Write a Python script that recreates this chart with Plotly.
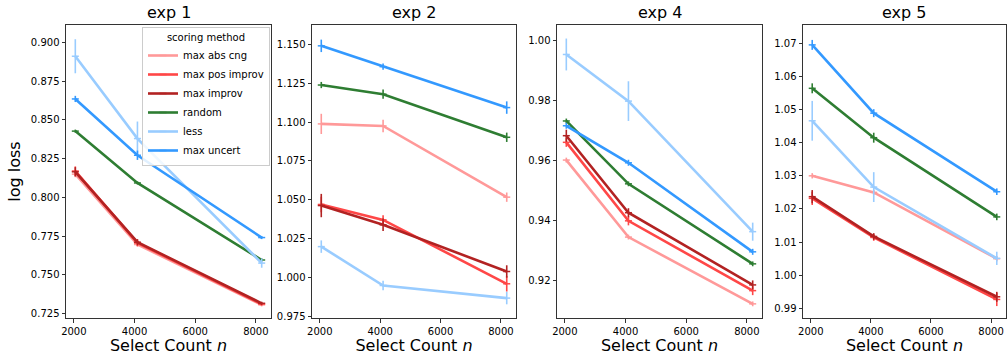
import plotly.graph_objects as go
from plotly.subplots import make_subplots

select_counts = [2048, 4096, 8192]
panel_titles = ["exp 1", "exp 2", "exp 4", "exp 5"]
methods = ["max abs cng", "max pos improv", "max improv", "random", "less", "max uncert"]
colors = ["#ff9999", "#ff4747", "#b22222", "#2e7d32", "#99ccff", "#3399ff"]

# exp 1
exp1_mean = {
    "max abs cng":    [0.8150, 0.7695, 0.7305],
    "max pos improv": [0.8170, 0.7705, 0.7310],
    "max improv":     [0.8165, 0.7710, 0.7315],
    "random":         [0.8428, 0.8093, 0.7595],
    "less":           [0.8912, 0.8380, 0.7575],
    "max uncert":     [0.8636, 0.8272, 0.7740],
}
exp1_err = {
    "max abs cng":    [0.002, 0.0015, 0.001],
    "max pos improv": [0.003, 0.002, 0.001],
    "max improv":     [0.003, 0.002, 0.001],
    "random":         [0.001, 0.001, 0.001],
    "less":           [0.011, 0.011, 0.003],
    "max uncert":     [0.002, 0.003, 0.001],
}
# exp 2
exp2_mean = {
    "max abs cng":    [1.0988, 1.0975, 1.0517],
    "max pos improv": [1.0470, 1.0371, 0.9960],
    "max improv":     [1.0463, 1.0339, 1.0039],
    "random":         [1.1238, 1.1179, 1.0902],
    "less":           [1.0199, 0.9949, 0.9868],
    "max uncert":     [1.1490, 1.1356, 1.1093],
}
exp2_err = {
    "max abs cng":    [0.0065, 0.004, 0.003],
    "max pos improv": [0.005, 0.003, 0.005],
    "max improv":     [0.0075, 0.004, 0.004],
    "random":         [0.002, 0.003, 0.003],
    "less":           [0.004, 0.003, 0.004],
    "max uncert":     [0.004, 0.002, 0.004],
}
# exp 4
exp4_mean = {
    "max abs cng":    [0.9601, 0.9345, 0.9123],
    "max pos improv": [0.9660, 0.9399, 0.9167],
    "max improv":     [0.9682, 0.9426, 0.9186],
    "random":         [0.9731, 0.9522, 0.9256],
    "less":           [0.9952, 0.9797, 0.9363],
    "max uncert":     [0.9715, 0.9592, 0.9296],
}
exp4_err = {
    "max abs cng":    [0.0008, 0.0008, 0.0008],
    "max pos improv": [0.0015, 0.0015, 0.0015],
    "max improv":     [0.002, 0.0015, 0.0015],
    "random":         [0.0008, 0.0008, 0.0008],
    "less":           [0.0053, 0.0066, 0.003],
    "max uncert":     [0.001, 0.001, 0.001],
}
# exp 5
exp5_mean = {
    "max abs cng":    [1.0300, 1.0250, 1.0050],
    "max pos improv": [1.0232, 1.0114, 0.9927],
    "max improv":     [1.0237, 1.0117, 0.9935],
    "random":         [1.0564, 1.0415, 1.0176],
    "less":           [1.0466, 1.0266, 1.0051],
    "max uncert":     [1.0695, 1.0489, 1.0252],
}
exp5_err = {
    "max abs cng":    [0.0008, 0.0008, 0.0008],
    "max pos improv": [0.002, 0.001, 0.002],
    "max improv":     [0.002, 0.001, 0.0015],
    "random":         [0.0015, 0.0015, 0.001],
    "less":           [0.006, 0.0045, 0.002],
    "max uncert":     [0.0015, 0.0012, 0.001],
}

panels = [(exp1_mean, exp1_err), (exp2_mean, exp2_err), (exp4_mean, exp4_err), (exp5_mean, exp5_err)]
y_ranges = [[0.722, 0.9114], [0.974, 1.1624], [0.9076, 1.005], [0.9871, 1.0755]]
y_dticks = [0.025, 0.025, 0.02, 0.01]
y_formats = [".3f", ".3f", ".2f", ".2f"]
x_domains = [[66/1007, 271/1007], [312/1007, 516/1007], [557/1007, 762/1007], [803/1007, 1006/1007]]
y_domain = [1 - 318/356, 1 - 25/356]

FONT = "DejaVu Sans"

fig = make_subplots(rows=1, cols=4, subplot_titles=panel_titles)

for p, (means, errs) in enumerate(panels):
    for m, c in zip(methods, colors):
        fig.add_trace(go.Scatter(
            x=select_counts, y=means[m], name=m, mode="lines+markers",
            line=dict(color=c, width=2.6),
            marker=dict(symbol="line-ew", size=5, color=c, line=dict(color=c, width=1.5)),
            error_y=dict(type="data", array=errs[m], visible=True, color=c, thickness=1.6, width=0),
            showlegend=(p == 0), legendgroup=m,
        ), row=1, col=p + 1)

for i in range(4):
    xa = "xaxis" if i == 0 else f"xaxis{i+1}"
    ya = "yaxis" if i == 0 else f"yaxis{i+1}"
    fig.layout[xa].update(
        domain=x_domains[i], range=[1741, 8499], tickvals=[2000, 4000, 6000, 8000],
        showgrid=False, zeroline=False, showline=True, mirror=True, linecolor="#333333", linewidth=1,
        ticks="outside", ticklen=3.5, tickwidth=1, tickcolor="#333333",
        tickfont=dict(family=FONT, size=10, color="black"),
        title=dict(text="Select Count <i>n</i>", font=dict(family=FONT, size=16, color="black"), standoff=4),
        automargin=False,
    )
    fig.layout[ya].update(
        domain=y_domain, range=y_ranges[i], dtick=y_dticks[i], tick0=0, tickformat=y_formats[i],
        showgrid=False, zeroline=False, showline=True, mirror=True, linecolor="#333333", linewidth=1,
        ticks="outside", ticklen=3.5, tickwidth=1, tickcolor="#333333",
        tickfont=dict(family=FONT, size=10, color="black"),
        automargin=False,
    )

fig.layout.yaxis.title = dict(text="log loss", font=dict(family=FONT, size=16, color="black"), standoff=6)

# subplot titles positions
for i, ann in enumerate(fig.layout.annotations):
    ann.update(x=(x_domains[i][0] + x_domains[i][1]) / 2, y=y_domain[1], yshift=1,
               font=dict(family=FONT, size=16, color="black"))

fig.update_layout(
    width=1007, height=356,
    margin=dict(l=0, r=0, t=0, b=0),
    paper_bgcolor="white", plot_bgcolor="white",
    font=dict(family=FONT, color="black"),
    legend=dict(
        x=142/1007, y=1 - 27/356, xanchor="left", yanchor="top",
        bgcolor="rgba(255,255,255,0.85)", bordercolor="#cccccc", borderwidth=1,
        font=dict(family=FONT, size=10, color="black"),
        title=dict(text="scoring method", side="top center", font=dict(family=FONT, size=10, color="black")),
        tracegroupgap=0, itemwidth=30,
    ),
)

fig.write_html("out.html")
